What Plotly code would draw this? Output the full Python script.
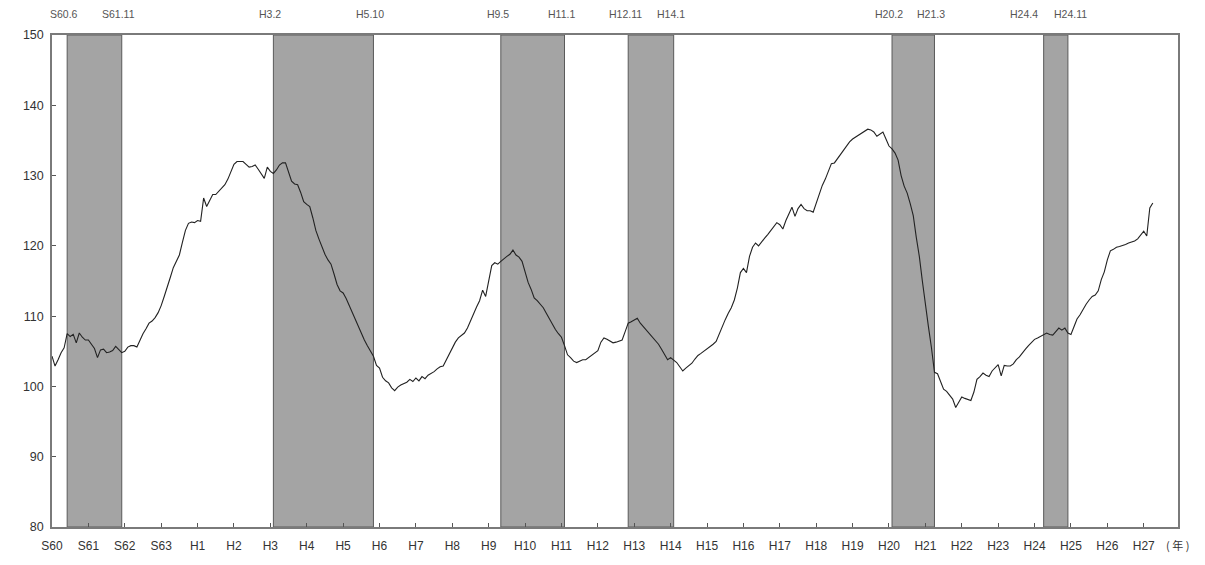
import plotly.graph_objects as go

# ---- data -------------------------------------------------------------
start_year = 1985  # S60
year_labels = ["S60", "S61", "S62", "S63", "H1", "H2", "H3", "H4", "H5", "H6",
               "H7", "H8", "H9", "H10", "H11", "H12", "H13", "H14", "H15", "H16",
               "H17", "H18", "H19", "H20", "H21", "H22", "H23", "H24", "H25", "H26", "H27"]

# monthly index values from Jan 1985
lagging_index = [
    104.3, 102.9, 103.8, 104.8, 105.5, 107.5, 107.1, 107.4, 106.2, 107.6, 107.0, 106.6,  # 1985
    106.6, 105.9, 105.4, 104.1, 105.2, 105.3, 104.8, 104.9, 105.1, 105.7, 105.3, 104.8,  # 1986
    105.0, 105.6, 105.8, 105.8, 105.6, 106.6, 107.5, 108.2, 109.0, 109.3, 109.8, 110.5,  # 1987
    111.5, 112.8, 114.0, 115.5, 116.9, 117.8, 118.7, 120.5, 122.2, 123.2, 123.4, 123.3,  # 1988
    123.6, 123.5, 126.8, 125.6, 126.5, 127.3, 127.3, 127.8, 128.2, 128.7, 129.5, 130.7,  # 1989
    131.6, 132.0, 132.0, 132.0, 131.6, 131.2, 131.3, 131.5, 130.9, 130.3, 129.6, 131.2,  # 1990
    130.6, 130.3, 130.8, 131.5, 131.8, 131.8, 130.4, 129.2, 128.8, 128.7, 127.6, 126.3,  # 1991
    125.9, 125.6, 124.0, 122.2, 121.0, 119.9, 118.8, 118.0, 117.4, 116.0, 114.5, 113.6,  # 1992
    113.3, 112.5, 111.5, 110.6, 109.6, 108.5, 107.5, 106.6, 105.8, 105.0, 104.3, 103.0,  # 1993
    102.6, 101.3, 100.8, 100.5, 99.8, 99.4, 99.9, 100.2, 100.4, 100.6, 101.0, 100.7,     # 1994
    101.2, 100.8, 101.4, 101.1, 101.6, 101.8, 102.1, 102.5, 102.8, 102.9, 103.8, 104.5,  # 1995
    105.5, 106.3, 106.9, 107.2, 107.6, 108.3, 109.3, 110.5, 111.3, 112.2, 113.7, 112.8,  # 1996
    115.2, 117.2, 117.6, 117.4, 117.8, 118.2, 118.5, 118.8, 119.4, 118.7, 118.4, 117.8,  # 1997
    116.3, 114.8, 113.8, 112.6, 112.2, 111.7, 111.2, 110.4, 109.6, 108.8, 108.1, 107.5,  # 1998
    107.0, 105.8, 104.5, 104.1, 103.6, 103.4, 103.6, 103.8, 103.8, 104.1, 104.5, 104.8,  # 1999
    105.1, 106.3, 106.9, 106.7, 106.4, 106.2, 106.3, 106.4, 106.6, 107.8, 109.0, 109.2,  # 2000
    109.4, 109.7, 109.0, 108.5, 108.0, 107.6, 107.1, 106.6, 106.0, 105.3, 104.5, 103.8,  # 2001
    104.1, 103.7, 103.4, 102.8, 102.2, 102.6, 102.9, 103.3, 103.9, 104.4, 104.7, 105.0,  # 2002
    105.3, 105.6, 106.0, 106.4, 107.5, 108.6, 109.5, 110.4, 111.2, 112.3, 114.0, 116.2,  # 2003
    116.8, 116.2, 118.5, 119.8, 120.4, 120.0, 120.6, 121.1, 121.6, 122.2, 122.8, 123.3,  # 2004
    123.0, 122.4, 123.6, 124.5, 125.5, 124.2, 125.3, 125.9, 125.3, 125.0, 125.0, 124.8,  # 2005
    126.0, 127.5, 128.6, 129.5, 130.6, 131.7, 131.8, 132.4, 133.0, 133.6, 134.2, 134.8,  # 2006
    135.2, 135.5, 135.8, 136.0, 136.3, 136.6, 136.5, 136.2, 135.6, 135.9, 136.2, 135.2,  # 2007
    134.2, 133.8, 133.2, 132.2, 130.0, 128.5, 127.5, 126.0, 124.3, 121.2, 118.5, 115.0,  # 2008
    111.5, 108.5, 105.5, 102.0, 101.8, 100.8, 99.6, 99.3, 98.8, 98.2, 97.0, 97.8,        # 2009
    98.5, 98.3, 98.2, 98.0, 99.2, 101.0, 101.4, 101.9, 101.6, 101.4, 102.2, 102.7,       # 2010
    103.1, 101.5, 103.0, 102.9, 102.9, 103.2, 103.8, 104.2, 104.8, 105.3, 105.8, 106.2,  # 2011
    106.7, 106.9, 107.1, 107.3, 107.6, 107.4, 107.3, 107.8, 108.3, 108.0, 108.3, 107.6,  # 2012
    107.4, 108.5, 109.6, 110.2, 111.0, 111.7, 112.3, 112.8, 113.0, 113.6, 115.2, 116.3,  # 2013
    118.0, 119.3, 119.5, 119.8, 119.9, 120.0, 120.2, 120.4, 120.5, 120.7, 121.0, 121.6,  # 2014
    122.1, 121.4, 125.4, 126.1,                                                          # 2015
]

# recession periods (peak, trough) as (year, month)
peak_labels = ["S60.6", "H3.2", "H9.5", "H12.11", "H20.2", "H24.4"]
trough_labels = ["S61.11", "H5.10", "H11.1", "H14.1", "H21.3", "H24.11"]
peaks = [(1985, 6), (1991, 2), (1997, 5), (2000, 11), (2008, 2), (2012, 4)]
troughs = [(1986, 11), (1993, 10), (1999, 1), (2002, 1), (2009, 3), (2012, 11)]

# ---- figure -----------------------------------------------------------
def month_index(ym):
    y, m = ym
    return (y - start_year) * 12 + (m - 1)

x_vals = list(range(len(lagging_index)))
tick_vals = [i * 12 for i in range(len(year_labels))]

fig = go.Figure()
fig.add_trace(go.Scatter(x=x_vals, y=lagging_index, mode="lines",
                         line=dict(color="#222222", width=1.1),
                         showlegend=False, hoverinfo="skip"))

label_font = dict(family="Liberation Sans, Arial, sans-serif", size=10.5, color="#555")
for i, (pk, tr, pl, tl) in enumerate(zip(peaks, troughs, peak_labels, trough_labels)):
    x0 = month_index(pk)
    x1 = month_index(tr) + 1
    fig.add_shape(type="rect", xref="x", yref="paper", x0=x0, x1=x1, y0=0, y1=1,
                  fillcolor="#a4a4a4", line=dict(color="#5a5a5a", width=1),
                  layer="below")
    last = (i == len(peaks) - 1)
    fig.add_annotation(x=x0, y=1, xref="x", yref="paper", yshift=21,
                       xanchor="right" if last else "center",
                       xshift=-4 if last else -3, yanchor="middle",
                       text=pl, showarrow=False, font=label_font)
    fig.add_annotation(x=x1, y=1, xref="x", yref="paper", yshift=21,
                       xanchor="center", xshift=-3 if not last else 3, yanchor="middle",
                       text=tl, showarrow=False, font=label_font)

fig.add_annotation(x=1, y=0, xref="paper", yref="paper", xanchor="center", yanchor="middle",
                   xshift=-1, yshift=-18, text="( 年 )", showarrow=False,
                   font=dict(family="Noto Sans CJK JP", size=11, color="#333"))

axis_font = dict(family="Liberation Sans, Arial, sans-serif", size=12, color="#333")
fig.update_xaxes(range=[0, 371.3], tickvals=tick_vals, ticktext=year_labels,
                 ticks="inside", ticklen=4, tickcolor="#555", ticklabelstandoff=7,
                 showgrid=False, zeroline=False, showline=True, mirror=True,
                 linecolor="#7a7a7a", linewidth=1.5, tickfont=axis_font)
fig.update_yaxes(range=[80, 150], tickvals=list(range(80, 151, 10)),
                 ticks="inside", ticklen=4, tickcolor="#555", ticklabelstandoff=4,
                 showgrid=False, zeroline=False, showline=True, mirror=True,
                 linecolor="#7a7a7a", linewidth=1.5, tickfont=dict(axis_font, size=12.5))

# the page adds an 8px body margin, so the figure is sized to the remaining window
fig.update_layout(width=1197, height=557, margin=dict(l=44, r=27, t=27, b=32),
                  plot_bgcolor="white", paper_bgcolor="white")

fig.write_html("out.html")
